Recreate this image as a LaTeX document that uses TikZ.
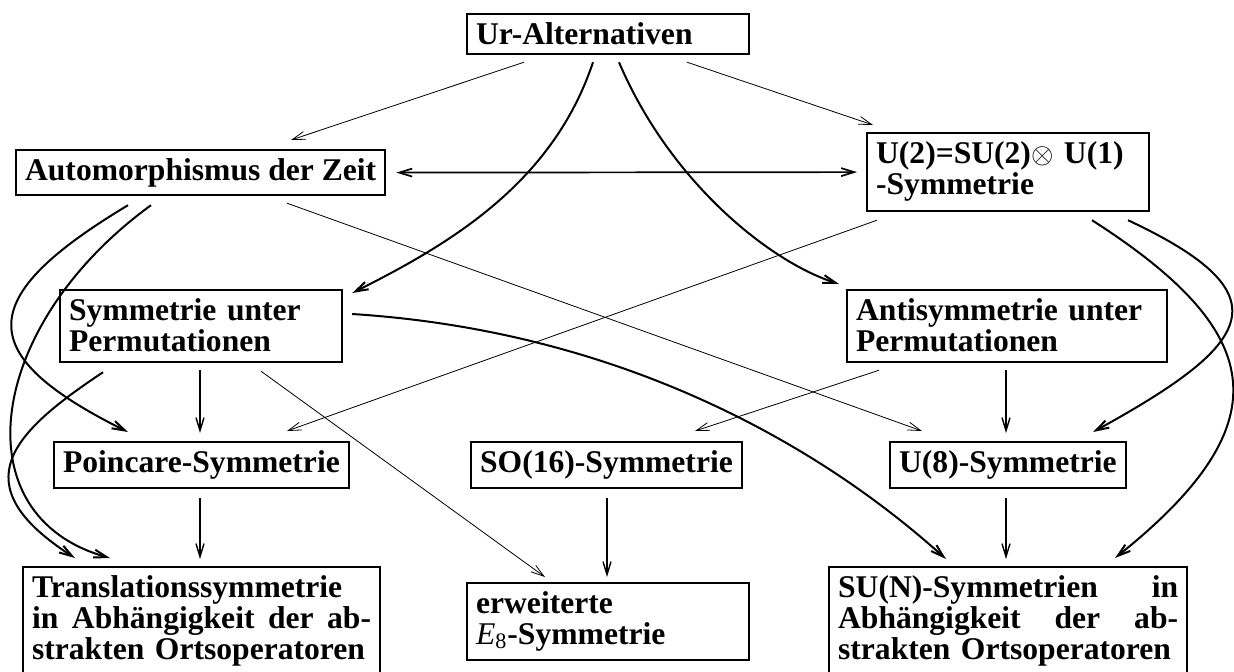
\documentclass[tikz,border=0pt]{standalone}
\RequirePackage{fontspec}
\RequirePackage{tikz}
\usetikzlibrary{arrows.meta}
\setmainfont{Liberation Serif}
\newcommand{\vollzeile}[1]{{\spaceskip=0.25em plus 2em\makebox[\hsize][s]{#1}}}

\begin{document}
\begin{tikzpicture}[x=0.5pt,y=-0.5pt,
                    >={Straight Barb[length=6.5pt,width=4pt]},
                    kasten/.style={draw,line width=1.1pt,anchor=north west,inner xsep=4.5pt,inner ysep=0pt,
                                   text height=15pt,align=left,font=\fontsize{15.8pt}{15.5pt}\selectfont\bfseries},
                    duenn/.style={->,line width=0.4pt},
                    mittel/.style={->,line width=0.7pt},
                    bogen/.style={->,line width=1pt}]
                    \useasboundingbox (0,0) rectangle (1234,671);
                    \clip (0,0) rectangle (1234,671);

                    \node[kasten,text width=132pt,text depth=5pt] (UR) at (466,13) {Ur-Alternativen};
                    \node[kasten,text depth=7.5pt] (ZT) at (15,149) {Automorphismus der Zeit};
                    \node[kasten,text width=132pt,text depth=24pt] (U2) at (866,132) {U(2)=SU(2)$\otimes$ U(1)\\-Symmetrie};
                    \node[kasten,text width=132pt,text depth=21pt] (SY) at (59,289) {Symmetrie unter\\Permutationen};
                    \node[kasten,text width=151pt,text depth=21pt] (AS) at (846,289) {Antisymmetrie unter\\Permutationen};
                    \node[kasten,text depth=8pt] (PO) at (53,441) {Poincare-Symmetrie};
                    \node[kasten,text depth=8pt] (SO) at (470,441) {SO(16)-Symmetrie};
                    \node[kasten,text depth=8pt] (U8) at (889,441) {U(8)-Symmetrie};
                    \node[kasten,text width=169.5pt,text depth=50pt] (TR) at (22,566) {Translationssymmetrie\\\vollzeile{in Abhängigkeit der ab-}\\strakten Ortsoperatoren};
                    \node[kasten,text width=132pt,text depth=23.5pt] (E8) at (466,582) {erweiterte\\{\mdseries\itshape E}{\mdseries\textsubscript{8}}-Symmetrie};
                    \node[kasten,text width=170pt,text depth=50pt] (SN) at (828,566) {\vollzeile{SU(N)-Symmetrien in}\\\vollzeile{Abhängigkeit der ab-}\\strakten Ortsoperatoren};

                    \draw[duenn] ([shift={(58,7)}]UR.south west) -- ([shift={(276,-9)}]ZT.north west);
                    \draw[duenn] ([shift={(221,7)}]UR.south west) -- ([shift={(7,-7)}]U2.north west);
                    \draw[bogen] ([shift={(127,7)}]UR.south west) .. controls +(-40,120) and +(100,-50) .. ([shift={(9,4)}]SY.north east);
                    \draw[bogen] ([shift={(153,7)}]UR.south west) .. controls +(51,120) and +(-69,-22) .. ([shift={(-7,-5)}]AS.north west);
                    \draw[<->,line width=0.85pt] ([shift={(10,0)}]ZT.east) -- ([shift={(-9,0)}]U2.west);
                    \draw[duenn] ([shift={(272,7)}]ZT.south west) -- ([shift={(33,-10)}]U8.north west);
                    \draw[duenn] ([shift={(11,8)}]U2.south west) -- ([shift={(234,-10)}]PO.north west);
                    \draw[duenn] ([shift={(33,7)}]AS.south west) -- ([shift={(225,-10)}]SO.north west);
                    \draw[bogen] ([shift={(9,25)}]SY.north east) .. controls +(330,21) and +(-66,-59) .. ([shift={(118,-7)}]SN.north west);
                    \draw[duenn] ([shift={(202,8)}]SY.south west) -- ([shift={(79,-5)}]E8.north west);
                    \draw[mittel] ([shift={(141,7)}]SY.south west) -- ([shift={(147,-8)}]PO.north west);
                    \draw[mittel] ([shift={(147,9)}]PO.south west) -- ([shift={(178,-7)}]TR.north west);
                    \draw[mittel] ([shift={(137,9)}]SO.south west) -- ([shift={(141,-5)}]E8.north west);
                    \draw[mittel] ([shift={(160,7)}]AS.south west) -- ([shift={(117,-8)}]U8.north west);
                    \draw[mittel] ([shift={(117,9)}]U8.south west) -- ([shift={(178,-7)}]SN.north west);
                    \draw[bogen] ([shift={(262,8)}]U2.south west) .. controls +(160,75) and +(160,-88) .. ([shift={(204,-9)}]U8.north west);
                    \draw[bogen] ([shift={(226,8)}]U2.south west) .. controls +(170,109) and +(173,-138) .. ([shift={(287,-8)}]SN.north west);
                    \draw[bogen] ([shift={(113,9)}]ZT.south west) .. controls +(-155,93) and +(-155,-77) .. ([shift={(75,-9)}]PO.north west);
                    \draw[bogen] ([shift={(136,9)}]ZT.south west) .. controls +(-165,120) and +(-150,-42) .. ([shift={(88,-8)}]TR.north west);
                    \draw[bogen] ([shift={(44,9)}]SY.south west) .. controls +(-90,60) and +(-115,-74) .. ([shift={(53,-8)}]TR.north west);
\end{tikzpicture}
\end{document}
